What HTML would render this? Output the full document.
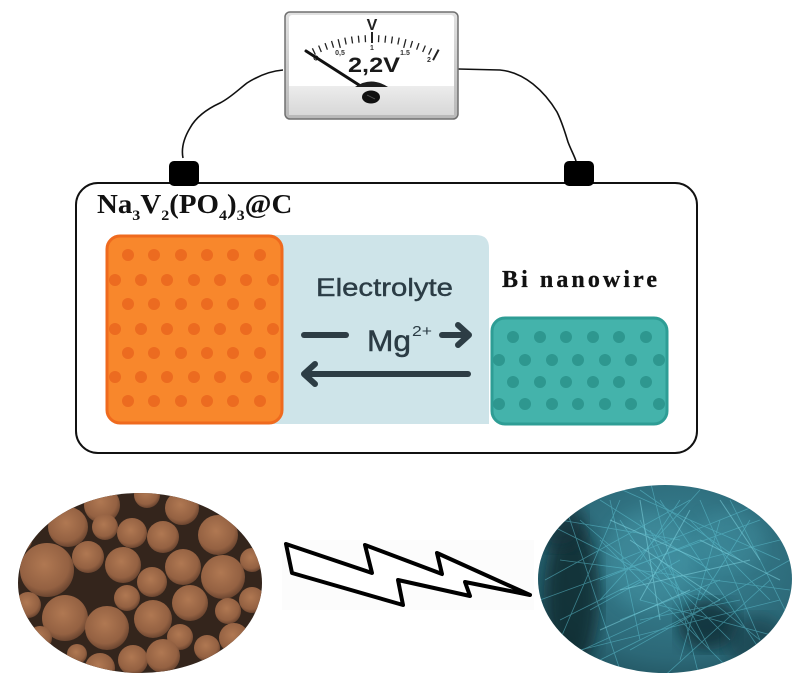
<!DOCTYPE html>
<html>
<head>
<meta charset="utf-8">
<style>
  html,body{margin:0;padding:0;background:#fff;}
  svg{display:block;}
</style>
</head>
<body>
<svg width="807" height="693" viewBox="0 0 807 693" xmlns="http://www.w3.org/2000/svg">
  <defs>
    <linearGradient id="frame" x1="0" y1="0" x2="0" y2="1">
      <stop offset="0" stop-color="#e2e2e2"/>
      <stop offset="1" stop-color="#b8b8b8"/>
    </linearGradient>
    <linearGradient id="lower" x1="0" y1="0" x2="0" y2="1">
      <stop offset="0" stop-color="#ececec"/>
      <stop offset="1" stop-color="#d8d8d8"/>
    </linearGradient>
    <radialGradient id="pg" cx="0.45" cy="0.4" r="0.65">
      <stop offset="0" stop-color="#b07852"/>
      <stop offset="0.7" stop-color="#946142"/>
      <stop offset="1" stop-color="#5e3c2a"/>
    </radialGradient>
    <radialGradient id="tealbg" cx="0.55" cy="0.4" r="0.7">
      <stop offset="0" stop-color="#3a8798"/>
      <stop offset="0.7" stop-color="#2c6877"/>
      <stop offset="1" stop-color="#1c4a55"/>
    </radialGradient>
    <clipPath id="cl"><ellipse cx="140" cy="583" rx="122" ry="90"/></clipPath>
    <clipPath id="cr"><ellipse cx="665" cy="579" rx="127" ry="94"/></clipPath>
    <filter id="blur6"><feGaussianBlur stdDeviation="8"/></filter>
  </defs>

  <!-- wires -->
  <path d="M283 70 C270 71 258 76 247 83 C238 90 230 98 220 103 C207 109 196 117 190 128 C184 138 181 148 183 158" fill="none" stroke="#111" stroke-width="1.6"/>
  <path d="M458 69 L500 70 C512 71 524 77 533 84 C543 92 551 102 557 112 C562 122 565 132 568 142 C571 150 574 155 576 161" fill="none" stroke="#111" stroke-width="1.6"/>

  <!-- meter -->
  <rect x="285" y="12" width="173" height="107" rx="5" fill="url(#frame)" stroke="#707070" stroke-width="1.5"/>
  <rect x="289" y="15" width="165" height="100" rx="3" fill="#ffffff"/>
  <rect x="289" y="86" width="165" height="29" fill="url(#lower)"/>
  <g stroke="#222" stroke-width="1.3">
    <line x1="372" y1="35" x2="372" y2="42" transform="rotate(-25.2 372 175)"/>
    <line x1="372" y1="35" x2="372" y2="42" transform="rotate(-22.4 372 175)"/>
    <line x1="372" y1="35" x2="372" y2="42" transform="rotate(-19.6 372 175)"/>
    <line x1="372" y1="35" x2="372" y2="42" transform="rotate(-16.8 372 175)"/>
    <line x1="372" y1="35" x2="372" y2="44" transform="rotate(-14 372 175)"/>
    <line x1="372" y1="35" x2="372" y2="42" transform="rotate(-11.2 372 175)"/>
    <line x1="372" y1="35" x2="372" y2="42" transform="rotate(-8.4 372 175)"/>
    <line x1="372" y1="35" x2="372" y2="42" transform="rotate(-5.6 372 175)"/>
    <line x1="372" y1="35" x2="372" y2="42" transform="rotate(-2.8 372 175)"/>
    <line x1="372" y1="32" x2="372" y2="43" stroke-width="2"/>
    <line x1="372" y1="35" x2="372" y2="42" transform="rotate(2.8 372 175)"/>
    <line x1="372" y1="35" x2="372" y2="42" transform="rotate(5.6 372 175)"/>
    <line x1="372" y1="35" x2="372" y2="42" transform="rotate(8.4 372 175)"/>
    <line x1="372" y1="35" x2="372" y2="42" transform="rotate(11.2 372 175)"/>
    <line x1="372" y1="35" x2="372" y2="44" transform="rotate(14 372 175)"/>
    <line x1="372" y1="35" x2="372" y2="42" transform="rotate(16.8 372 175)"/>
    <line x1="372" y1="35" x2="372" y2="42" transform="rotate(19.6 372 175)"/>
    <line x1="372" y1="35" x2="372" y2="42" transform="rotate(22.4 372 175)"/>
    <line x1="372" y1="35" x2="372" y2="42" transform="rotate(25.2 372 175)"/>
    <line x1="372" y1="33" x2="372" y2="45" stroke-width="2" transform="rotate(28 372 175)"/>
  </g>
  <text x="372" y="30" font-family="Liberation Sans, sans-serif" font-size="16" font-weight="bold" fill="#222" text-anchor="middle">V</text>
  <g font-family="Liberation Sans, sans-serif" font-size="7" font-weight="bold" fill="#333" text-anchor="middle">
    <text x="340" y="55">0,5</text>
    <text x="372" y="50">1</text>
    <text x="405" y="55">1.5</text>
    <text x="429" y="62">2</text>
  </g>
  <text x="348" y="72" font-family="Liberation Sans, sans-serif" font-size="21" font-weight="bold" fill="#1a1a1a" textLength="52" lengthAdjust="spacingAndGlyphs">2,2V</text>
  <line x1="306" y1="51" x2="359" y2="85" stroke="#111" stroke-width="3" stroke-linecap="round"/>
  <circle cx="316" cy="58" r="2" fill="none" stroke="#111" stroke-width="1"/>
  <path d="M355 87 Q371 76 388 87 Z" fill="#1e1e1e"/>
  <ellipse cx="371" cy="97" rx="9" ry="6.5" fill="#111"/>
  <line x1="367" y1="95" x2="375" y2="99" stroke="#555" stroke-width="0.8"/>

  <!-- main box -->
  <rect x="76" y="183" width="621" height="270" rx="22" fill="#fff" stroke="#111" stroke-width="2"/>

  <!-- terminals -->
  <rect x="169" y="161" width="30" height="25" rx="5" fill="#000"/>
  <rect x="564" y="161" width="30" height="25" rx="5" fill="#000"/>

  <!-- label Na3V2(PO4)3@C -->
  <g transform="translate(97,213) scale(1.07,1)" font-family="Liberation Serif, serif" font-weight="bold" fill="#111">
    <text x="0" y="0" font-size="27">Na<tspan font-size="15" dy="7">3</tspan><tspan dy="-7">V</tspan><tspan font-size="15" dy="7">2</tspan><tspan dy="-7">(PO</tspan><tspan font-size="15" dy="7">4</tspan><tspan dy="-7">)</tspan><tspan font-size="15" dy="7">3</tspan><tspan dy="-7">@C</tspan></text>
  </g>

  <!-- electrolyte -->
  <path d="M270 235 L476 235 Q489 235 489 248 L489 424 L270 424 Z" fill="#cee4e9"/>

  <!-- orange electrode -->
  <rect x="107" y="236" width="175" height="187" rx="13" fill="#f8872c" stroke="#ef6a1e" stroke-width="3"/>
  <g fill="#ec6b20">
    <circle cx="128" cy="255" r="6"/><circle cx="154" cy="255" r="6"/><circle cx="181" cy="255" r="6"/><circle cx="207" cy="255" r="6"/><circle cx="233" cy="255" r="6"/><circle cx="260" cy="255" r="6"/>
    <circle cx="115" cy="280" r="6"/><circle cx="141" cy="280" r="6"/><circle cx="167" cy="280" r="6"/><circle cx="194" cy="280" r="6"/><circle cx="220" cy="280" r="6"/><circle cx="246" cy="280" r="6"/><circle cx="273" cy="280" r="6"/>
    <circle cx="128" cy="304" r="6"/><circle cx="154" cy="304" r="6"/><circle cx="181" cy="304" r="6"/><circle cx="207" cy="304" r="6"/><circle cx="233" cy="304" r="6"/><circle cx="260" cy="304" r="6"/>
    <circle cx="115" cy="329" r="6"/><circle cx="141" cy="329" r="6"/><circle cx="167" cy="329" r="6"/><circle cx="194" cy="329" r="6"/><circle cx="220" cy="329" r="6"/><circle cx="246" cy="329" r="6"/><circle cx="273" cy="329" r="6"/>
    <circle cx="128" cy="353" r="6"/><circle cx="154" cy="353" r="6"/><circle cx="181" cy="353" r="6"/><circle cx="207" cy="353" r="6"/><circle cx="233" cy="353" r="6"/><circle cx="260" cy="353" r="6"/>
    <circle cx="115" cy="377" r="6"/><circle cx="141" cy="377" r="6"/><circle cx="167" cy="377" r="6"/><circle cx="194" cy="377" r="6"/><circle cx="220" cy="377" r="6"/><circle cx="246" cy="377" r="6"/><circle cx="273" cy="377" r="6"/>
    <circle cx="128" cy="401" r="6"/><circle cx="154" cy="401" r="6"/><circle cx="181" cy="401" r="6"/><circle cx="207" cy="401" r="6"/><circle cx="233" cy="401" r="6"/><circle cx="260" cy="401" r="6"/>
  </g>

  <!-- teal electrode -->
  <rect x="492" y="318" width="175" height="106" rx="13" fill="#44b3ab" stroke="#2e9d95" stroke-width="3"/>
  <g fill="#2e978f">
    <circle cx="513" cy="337" r="6"/><circle cx="540" cy="337" r="6"/><circle cx="566" cy="337" r="6"/><circle cx="593" cy="337" r="6"/><circle cx="619" cy="337" r="6"/><circle cx="646" cy="337" r="6"/>
    <circle cx="499" cy="360" r="6"/><circle cx="525" cy="360" r="6"/><circle cx="552" cy="360" r="6"/><circle cx="578" cy="360" r="6"/><circle cx="605" cy="360" r="6"/><circle cx="631" cy="360" r="6"/><circle cx="659" cy="360" r="6"/>
    <circle cx="513" cy="382" r="6"/><circle cx="540" cy="382" r="6"/><circle cx="566" cy="382" r="6"/><circle cx="593" cy="382" r="6"/><circle cx="619" cy="382" r="6"/><circle cx="646" cy="382" r="6"/>
    <circle cx="499" cy="404" r="6"/><circle cx="525" cy="404" r="6"/><circle cx="552" cy="404" r="6"/><circle cx="578" cy="404" r="6"/><circle cx="605" cy="404" r="6"/><circle cx="631" cy="404" r="6"/><circle cx="659" cy="404" r="6"/>
  </g>

  <!-- labels -->
  <text x="316" y="296" font-family="Liberation Sans, sans-serif" font-size="25" fill="#2b3c45" stroke="#2b3c45" stroke-width="0.4" textLength="137" lengthAdjust="spacingAndGlyphs">Electrolyte</text>
  <text x="502" y="287" font-family="Liberation Serif, serif" font-size="24" font-weight="bold" fill="#111" stroke="#111" stroke-width="0.3" textLength="155" lengthAdjust="spacing">Bi nanowire</text>
  <text x="367" y="351" font-family="Liberation Sans, sans-serif" font-size="30" fill="#2b3c45" stroke="#2b3c45" stroke-width="0.5" textLength="44" lengthAdjust="spacingAndGlyphs">Mg</text>
  <text x="412" y="336" font-family="Liberation Sans, sans-serif" font-size="15" fill="#2b3c45" textLength="20" lengthAdjust="spacingAndGlyphs">2+</text>

  <!-- arrows -->
  <g stroke="#2d3d45" stroke-width="6" stroke-linecap="round" stroke-linejoin="round" fill="none">
    <line x1="304" y1="335" x2="346" y2="335"/>
    <line x1="442" y1="335" x2="467" y2="335"/>
    <polyline points="458,325 469,335 458,345"/>
    <line x1="305" y1="374" x2="468" y2="374"/>
    <polyline points="315,364 304,374 315,384"/>
  </g>

  <!-- left SEM image -->
  <g clip-path="url(#cl)">
    <rect x="10" y="485" width="260" height="200" fill="#34251c"/>
    <g fill="url(#pg)">
      <circle cx="102" cy="505" r="18"/><circle cx="147" cy="495" r="13"/><circle cx="182" cy="508" r="17"/>
      <circle cx="68" cy="527" r="20"/><circle cx="105" cy="527" r="13"/><circle cx="132" cy="533" r="15"/>
      <circle cx="163" cy="537" r="16"/><circle cx="218" cy="535" r="20"/><circle cx="47" cy="570" r="27"/>
      <circle cx="88" cy="557" r="16"/><circle cx="123" cy="565" r="18"/><circle cx="152" cy="582" r="15"/>
      <circle cx="183" cy="567" r="18"/><circle cx="223" cy="577" r="22"/><circle cx="252" cy="560" r="12"/>
      <circle cx="127" cy="598" r="13"/><circle cx="28" cy="605" r="13"/><circle cx="65" cy="618" r="23"/>
      <circle cx="107" cy="628" r="22"/><circle cx="153" cy="619" r="19"/><circle cx="190" cy="603" r="18"/>
      <circle cx="228" cy="611" r="13"/><circle cx="252" cy="600" r="13"/><circle cx="180" cy="637" r="13"/>
      <circle cx="207" cy="648" r="13"/><circle cx="234" cy="638" r="15"/><circle cx="133" cy="660" r="15"/>
      <circle cx="163" cy="656" r="17"/><circle cx="100" cy="668" r="15"/><circle cx="40" cy="638" r="12"/>
      <circle cx="77" cy="654" r="10"/><circle cx="20" cy="540" r="12"/><circle cx="260" cy="650" r="12"/>
    </g>
  </g>

  <!-- lightning bolt -->
  <rect x="282" y="540" width="252" height="70" fill="#fcfcfc"/>
  <polygon points="286,544 372,573 365,545 442,574 437,553 530,595 465,582 470,596 398,580 403,605 292,573" fill="#fff" stroke="#000" stroke-width="4" stroke-linejoin="round"/>

  <!-- right SEM image -->
  <g clip-path="url(#cr)">
    <rect x="530" y="480" width="270" height="200" fill="url(#tealbg)"/>
    <ellipse cx="572" cy="595" rx="28" ry="75" fill="#0e262c" opacity="0.8" filter="url(#blur6)"/>
    <ellipse cx="560" cy="525" rx="25" ry="25" fill="#12313a" opacity="0.7" filter="url(#blur6)"/>
    <ellipse cx="708" cy="625" rx="30" ry="25" fill="#0f2a30" opacity="0.8" filter="url(#blur6)"/>
    <ellipse cx="755" cy="640" rx="30" ry="25" fill="#163a44" opacity="0.6" filter="url(#blur6)"/>
    <ellipse cx="650" cy="560" rx="45" ry="50" fill="#4796a6" opacity="0.45" filter="url(#blur6)"/>
    <ellipse cx="730" cy="540" rx="35" ry="30" fill="#4796a6" opacity="0.35" filter="url(#blur6)"/>
    <g stroke="#5ec0d0" stroke-width="0.8" opacity="0.55">
      <line x1="540" y1="520" x2="700" y2="600"/><line x1="560" y1="490" x2="620" y2="670"/>
      <line x1="600" y1="480" x2="780" y2="560"/><line x1="620" y1="500" x2="560" y2="640"/>
      <line x1="650" y1="480" x2="700" y2="680"/><line x1="700" y1="490" x2="600" y2="600"/>
      <line x1="730" y1="500" x2="790" y2="620"/><line x1="540" y1="600" x2="760" y2="520"/>
      <line x1="560" y1="560" x2="790" y2="590"/><line x1="580" y1="650" x2="780" y2="600"/>
      <line x1="600" y1="540" x2="740" y2="680"/><line x1="640" y1="600" x2="790" y2="640"/>
      <line x1="660" y1="500" x2="780" y2="680"/><line x1="680" y1="540" x2="560" y2="520"/>
      <line x1="700" y1="640" x2="620" y2="520"/><line x1="720" y1="600" x2="600" y2="660"/>
      <line x1="740" y1="560" x2="640" y2="490"/><line x1="760" y1="640" x2="700" y2="500"/>
      <line x1="545" y1="580" x2="690" y2="500"/><line x1="590" y1="610" x2="680" y2="560"/>
      <line x1="610" y1="500" x2="640" y2="640"/><line x1="620" y1="560" x2="770" y2="500"/>
      <line x1="630" y1="650" x2="790" y2="560"/><line x1="650" y1="530" x2="710" y2="650"/>
      <line x1="670" y1="610" x2="560" y2="660"/><line x1="690" y1="520" x2="770" y2="600"/>
      <line x1="710" y1="570" x2="600" y2="500"/><line x1="730" y1="640" x2="650" y2="560"/>
      <line x1="750" y1="520" x2="700" y2="600"/><line x1="770" y1="580" x2="660" y2="680"/>
      <line x1="600" y1="580" x2="700" y2="540"/><line x1="640" y1="520" x2="680" y2="600"/>
      <line x1="660" y1="560" x2="760" y2="640"/><line x1="620" y1="620" x2="720" y2="580"/>
      <line x1="680" y1="500" x2="640" y2="560"/><line x1="700" y1="560" x2="780" y2="540"/>
      <line x1="580" y1="520" x2="650" y2="580"/><line x1="560" y1="620" x2="640" y2="580"/>
      <line x1="720" y1="520" x2="680" y2="660"/><line x1="740" y1="600" x2="640" y2="620"/>
    </g>
    <g stroke="#86dae6" stroke-width="1" opacity="0.5">
      <line x1="610" y1="520" x2="700" y2="560"/><line x1="640" y1="500" x2="660" y2="620"/>
      <line x1="620" y1="590" x2="750" y2="560"/><line x1="690" y1="510" x2="640" y2="600"/>
      <line x1="700" y1="540" x2="780" y2="580"/><line x1="630" y1="540" x2="720" y2="600"/>
      <line x1="600" y1="630" x2="690" y2="590"/><line x1="720" y1="500" x2="760" y2="560"/>
    </g>
  </g>
</svg>
</body>
</html>
